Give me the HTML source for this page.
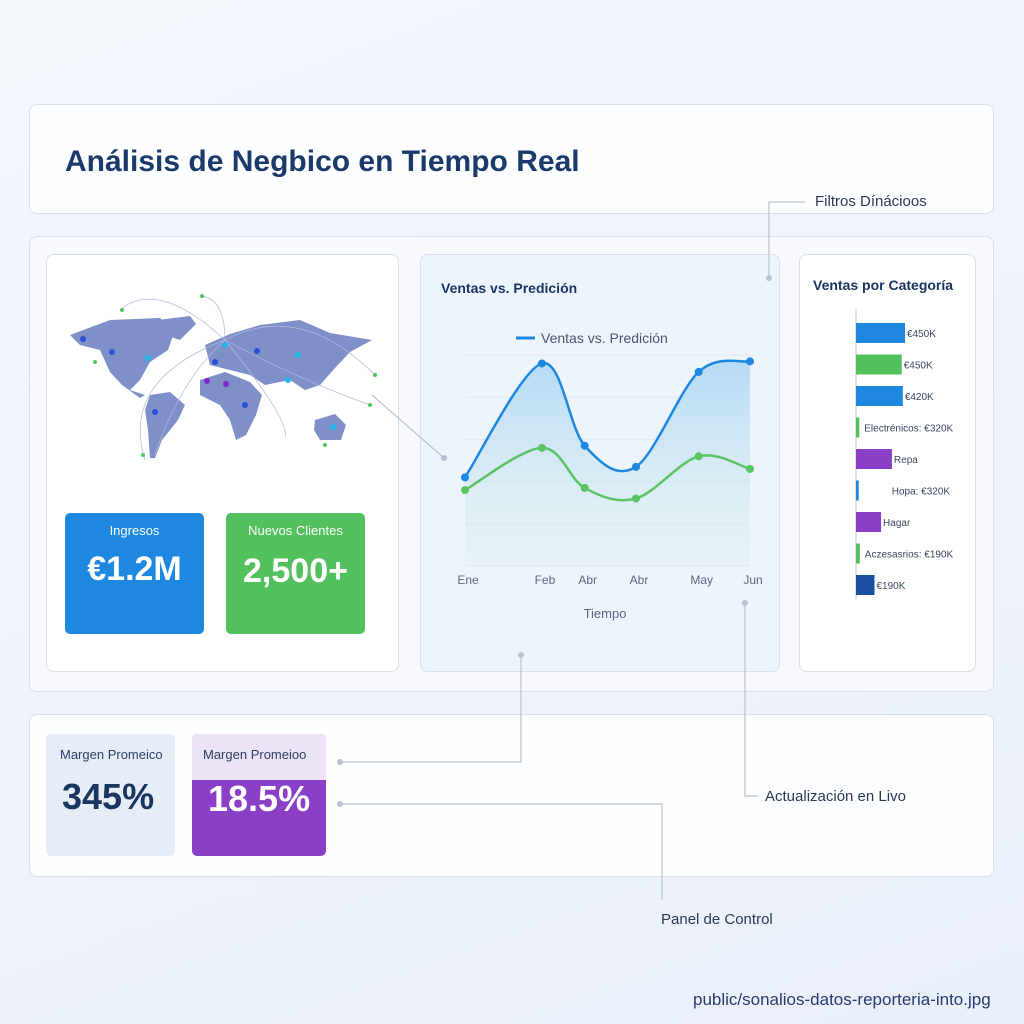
<!DOCTYPE html>
<html><head><meta charset="utf-8">
<style>
*{box-sizing:border-box;margin:0;padding:0}
body{width:1024px;height:1024px;background:linear-gradient(160deg,#f4f7fc,#eaf0fa);font-family:"Liberation Sans",sans-serif;position:relative;overflow:hidden;color:#1b3561}
.abs{position:absolute}
.panel{position:absolute;background:#fff;border:1.5px solid #d8e0ec;border-radius:8px}
</style></head><body>
<div class="panel" style="left:29px;top:104px;width:965px;height:110px;background:#fdfeff">
  <div class="abs" style="left:35px;top:40px;font-size:30px;font-weight:bold;color:#1b3a6b">Análisis de Negbico en Tiempo Real</div>
</div>
<div class="panel" style="left:29px;top:236px;width:965px;height:456px;background:#f7f9fc"></div>
<div class="panel" style="left:46px;top:254px;width:353px;height:418px"></div>
<svg class="abs" style="left:46px;top:254px" width="353" height="230" viewBox="46 254 353 230">
  <g fill="#7f8fc8">
    <path d="M70,335 L110,320 L160,318 L175,330 L168,350 L150,362 L140,380 L130,390 L145,395 L140,398 L122,385 L110,372 L100,350 L80,345Z"/>
    <path d="M150,395 L170,392 L185,405 L178,420 L162,440 L155,458 L150,458 L148,430 L145,410Z"/>
    <path d="M158,320 L190,316 L196,324 L180,340 L168,336Z"/>
    <path d="M205,345 L230,334 L260,325 L300,320 L330,333 L372,340 L350,352 L335,368 L320,385 L305,390 L290,380 L265,385 L250,375 L230,370 L210,365Z"/>
    <path d="M200,380 L225,372 L250,382 L262,395 L256,415 L246,435 L236,440 L230,420 L220,405 L200,395Z"/>
    <path d="M315,420 L335,414 L346,425 L341,440 L320,440 L314,430Z"/>
  </g>
  <g fill="none" stroke="#b0b8dc" stroke-width="0.7">
    <path d="M122,308 Q160,280 225,340"/><path d="M202,296 Q225,300 225,340"/><path d="M225,340 Q300,300 375,375"/><path d="M225,340 Q180,380 155,455"/><path d="M225,340 Q300,380 370,405"/><path d="M225,340 Q120,380 145,460"/><path d="M225,340 Q290,420 285,437"/>
  </g>
  <g>
    <circle cx="122" cy="310" r="2" fill="#4fc45a"/><circle cx="202" cy="296" r="2" fill="#4fc45a"/><circle cx="95" cy="362" r="2" fill="#4fc45a"/><circle cx="375" cy="375" r="2" fill="#4fc45a"/><circle cx="370" cy="405" r="2" fill="#4fc45a"/><circle cx="143" cy="455" r="2" fill="#4fc45a"/><circle cx="325" cy="445" r="2" fill="#4fc45a"/>
    <circle cx="83" cy="339" r="3" fill="#2a4fd8"/><circle cx="112" cy="352" r="3" fill="#2a4fd8"/><circle cx="148" cy="358" r="3" fill="#24b4e8"/><circle cx="215" cy="362" r="3" fill="#2a4fd8"/><circle cx="225" cy="345" r="3" fill="#24b4e8"/><circle cx="207" cy="381" r="3" fill="#7a2ad0"/><circle cx="226" cy="384" r="3" fill="#7a2ad0"/><circle cx="245" cy="405" r="3" fill="#2a4fd8"/><circle cx="155" cy="412" r="3" fill="#2a4fd8"/><circle cx="298" cy="355" r="3" fill="#24b4e8"/><circle cx="257" cy="351" r="3" fill="#2a4fd8"/><circle cx="333" cy="427" r="3" fill="#24b4e8"/><circle cx="288" cy="380" r="3" fill="#24b4e8"/>
  </g>
</svg>
<div class="abs" style="left:65px;top:513px;width:139px;height:121px;background:#1e88e0;border-radius:5px;color:#fff;text-align:center">
  <div style="margin-top:10px;font-size:13px">Ingresos</div>
  <div style="margin-top:12px;font-size:34px;font-weight:bold">€1.2M</div>
</div>
<div class="abs" style="left:226px;top:513px;width:139px;height:121px;background:#52c05c;border-radius:5px;color:#fff;text-align:center">
  <div style="margin-top:10px;font-size:13px">Nuevos Clientes</div>
  <div style="margin-top:14px;font-size:34px;font-weight:bold">2,500+</div>
</div>

<div class="panel" style="left:420px;top:254px;width:360px;height:418px;background:#eef4fc"></div>
<div class="abs" style="left:441px;top:280px;font-size:14px;font-weight:bold;color:#1b3561">Ventas vs. Predición</div>
<svg class="abs" id="lc" style="left:420px;top:254px" width="360" height="418"></svg>

<div class="panel" style="left:799px;top:254px;width:177px;height:418px"></div>
<div class="abs" style="left:813px;top:277px;font-size:14px;font-weight:bold;color:#1b3561">Ventas por Categoría</div>
<svg class="abs" id="bc" style="left:799px;top:254px" width="177" height="418"></svg>

<div class="panel" style="left:29px;top:714px;width:965px;height:163px;background:#fdfeff"></div>
<div class="abs" style="left:46px;top:734px;width:129px;height:122px;background:#e6edf7;border-radius:5px">
  <div style="position:absolute;left:14px;top:13px;font-size:13px;color:#2a3f66">Margen Promeico</div>
  <div style="position:absolute;left:16px;top:42px;font-size:36px;font-weight:bold;color:#1b3561">345%</div>
</div>
<div class="abs" style="left:192px;top:734px;width:134px;height:122px;background:#8a3fc6;border-radius:5px;overflow:hidden">
  <div style="height:46px;background:#ece3f6"></div>
  <div style="position:absolute;left:11px;top:13px;font-size:13px;color:#2a3f66">Margen Promeioo</div>
  <div style="position:absolute;left:16px;top:44px;font-size:36px;font-weight:bold;color:#fff">18.5%</div>
</div>

<svg class="abs" style="left:0;top:0" width="1024" height="1024">
  <g fill="none" stroke="#b8c2d0" stroke-width="1.2">
    <path d="M805,202 L769,202 L769,278"/><path d="M372,395 L444,458"/><path d="M340,762 L521,762 L521,655"/><path d="M340,804 L662,804 L662,900"/><path d="M745,603 L745,796 L758,796"/>
  </g>
  <g fill="#b8c2d0"><circle cx="769" cy="278" r="3"/><circle cx="444" cy="458" r="3"/><circle cx="340" cy="762" r="3"/><circle cx="521" cy="655" r="3"/><circle cx="340" cy="804" r="3"/><circle cx="745" cy="603" r="3"/></g>
</svg>
<div class="abs" style="left:815px;top:193px;font-size:15px;color:#2a3a55">Filtros Dínácioos</div>
<div class="abs" style="left:765px;top:788px;font-size:15px;color:#2a3a55">Actualización en Livo</div>
<div class="abs" style="left:661px;top:911px;font-size:15px;color:#2a3a55">Panel de Control</div>
<div class="abs" style="left:693px;top:990px;font-size:17px;color:#2a3a70">public/sonalios-datos-reporteria-into.jpg</div>

<script>
const months=["Ene","Feb","Abr","Abr","May","Jun"];
const monthPos=[0,0.27,0.42,0.6,0.82,1];
const ventas=[42,96,57,47,92,97];
const prediccion=[36,56,37,32,52,46];
const yTicks=[0,20,40,60,80,100];
const catLabels=["€450K","€450K","€420K","Electrénicos: €320K","Repa","Hopa: €320K","Hagar","Aczesasrios: €190K","€190K"];
const catValues=[450,420,430,30,330,25,230,35,170];
const catColors=["#1e88e0","#52c05c","#1e88e0","#52c05c","#8a3fc6","#1e88e0","#8a3fc6","#52c05c","#1a4fa0"];
const NS="http://www.w3.org/2000/svg";
function mk(p,t,a){const e=document.createElementNS(NS,t);for(const k in a)e.setAttribute(k,a[k]);p.appendChild(e);return e;}
const lc=document.getElementById('lc');
const x0=45,x1=330,yb=312,yt=101;
const xs=i=>x0+monthPos[i]*(x1-x0);
const ys=v=>yb-(v/100)*(yb-yt);
const defs=mk(lc,'defs',{});
const g=mk(defs,'linearGradient',{id:'ga',x1:0,y1:0,x2:0,y2:1});
mk(g,'stop',{offset:0,'stop-color':'#9fd0f5','stop-opacity':0.7});
mk(g,'stop',{offset:1,'stop-color':'#d8f0e6','stop-opacity':0.3});
yTicks.forEach(t=>{const l=mk(lc,'line',{x1:x0,x2:x1,y1:ys(t),y2:ys(t),stroke:'#e2e8f2','stroke-width':1});

});
function smooth(vals){const p=vals.map((v,i)=>[xs(i),ys(v)]);let d=`M${p[0][0]},${p[0][1]}`;
for(let i=0;i<p.length-1;i++){const a=p[i-1]||p[i],b=p[i],c=p[i+1],e=p[i+2]||c;
d+=` C${b[0]+(c[0]-a[0])/6},${b[1]+(c[1]-a[1])/6} ${c[0]-(e[0]-b[0])/6},${c[1]-(e[1]-b[1])/6} ${c[0]},${c[1]}`;}return d;}
const area=mk(lc,'path',{d:smooth(ventas)+` L${xs(months.length-1)},${yb} L${xs(0)},${yb}Z`,fill:'url(#ga)'});


[[prediccion,'#5cc364','prediccion'],[ventas,'#1e88e0','ventas']].forEach(([vals,c,n])=>{
const p=mk(lc,'path',{d:smooth(vals),fill:'none',stroke:c,'stroke-width':2.5});


vals.forEach((v,i)=>{const pt=mk(lc,'circle',{cx:xs(i),cy:ys(v),r:4,fill:c});

});});
months.forEach((m,i)=>{const t=mk(lc,'text',{x:xs(i)+3,y:330,'text-anchor':'middle','font-size':12,fill:'#5a6780','font-family':'Liberation Sans'});t.textContent=m;

});
const xt=mk(lc,'text',{x:185,y:364,'text-anchor':'middle','font-size':13,fill:'#5a6780','font-family':'Liberation Sans'});xt.textContent='Tiempo';


const lg=mk(lc,'line',{x1:96,x2:115,y1:84,y2:84,stroke:'#1e88e0','stroke-width':3});


const lt=mk(lc,'text',{x:121,y:89,'font-size':14,fill:'#4a5670','font-family':'Liberation Sans'});lt.textContent='Ventas vs. Predición';


const bc=document.getElementById('bc');
const bx=57,bw=i=>catValues[i]/450*49;
const ax=mk(bc,'line',{x1:bx,x2:bx,y1:55,y2:345,stroke:'#d5d9e0','stroke-width':1.5});


catValues.forEach((v,i)=>{const cy=79+i*31.5;
const r=mk(bc,'rect',{x:bx,y:cy-10,width:bw(i),height:20,fill:catColors[i]});


const t=mk(bc,'text',{x:bx+bw(i)+(catLabels[i].length>10?5:2)+(catLabels[i].startsWith('Hopa')?28:0),y:cy+4,'font-size':10,fill:'#3a4660','font-family':'Liberation Sans'});t.textContent=catLabels[i];

});
</script>
</body></html>
